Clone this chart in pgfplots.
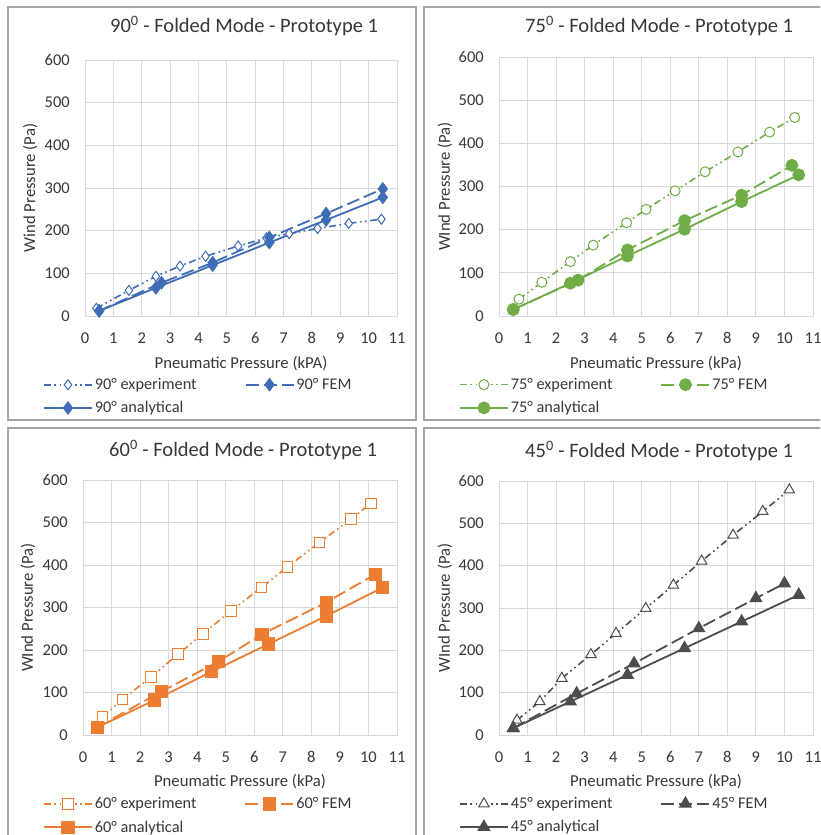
\documentclass[border=0pt]{standalone}
\usepackage{pgfplots}
\pgfplotsset{compat=1.18}
\usepackage{fontspec}
\setmainfont{Carlito}
\definecolor{cblue}{HTML}{3F6DB5}
\definecolor{cgreen}{HTML}{70AD47}
\definecolor{corange}{HTML}{ED7D31}
\definecolor{cgray}{HTML}{4D4D4D}
\definecolor{gridc}{HTML}{D9D9D9}
\definecolor{framec}{HTML}{A6A6A6}
\definecolor{txt}{HTML}{383838}
\pgfplotsset{
  panel/.style={
    scale only axis,
    xmin=0, xmax=11, ymin=0, ymax=600,
    xtick={0,1,...,11}, ytick={0,100,...,600},
    grid=major,
    grid style={draw=gridc, line width=0.9pt},
    axis line style={draw=gridc, line width=0.9pt},
    major tick length=0pt,
    /pgf/number format/assume math mode=true,
    tick label style={font=\fontsize{16.5}{19}\selectfont, text=txt},
    xticklabel style={anchor=center, yshift=-22pt},
    yticklabel style={anchor=east, inner sep=0pt, xshift=-15pt},
    label style={font=\fontsize{16.7}{19}\selectfont, text=txt},
    title style={font=\fontsize{20.5}{24}\selectfont, text=txt, anchor=center},
    legend columns=2,
    legend cell align=left,
    legend style={draw=none, fill=none, inner sep=0pt, anchor=north west,
      font=\fontsize{16.3}{19}\selectfont, text=txt,
      nodes={inner sep=2pt},
      row sep=6.5pt,
      /tikz/every even column/.append style={column sep=46pt}},
    legend image code/.code={\draw[mark repeat=2,mark phase=2,#1] plot coordinates {(0pt,0pt) (24pt,0pt) (48pt,0pt)};},
  },
  expst/.style={line width=1.6pt, dash pattern=on 7pt off 3.5pt on 1.6pt off 3.5pt on 1.6pt off 3.5pt, mark options={solid, fill=white, line width=1pt}},
  femst/.style={line width=1.8pt, dash pattern=on 13pt off 5pt, mark options={solid}},
  anast/.style={line width=1.8pt, mark options={solid}},
}
\begin{document}
\begin{tikzpicture}[x=1pt,y=1pt]
\useasboundingbox (0,0) rectangle (820,835);
\clip (0,0) rectangle (820,835);
\fill[white] (0,0) rectangle (820,835);
\draw[framec, line width=1.2pt] (8,415) rectangle (416,828);
\draw[framec, line width=1.2pt] (424,415) rectangle (830,828);
\draw[framec, line width=1.2pt] (8,-20) rectangle (416,407);
\draw[framec, line width=1.2pt] (424,-20) rectangle (830,407);

% Panel 1: 90 deg
\begin{axis}[panel, at={(85pt,519pt)}, anchor=south west, width=312pt, height=256pt,
  title={90\textsuperscript{0} - Folded Mode - Prototype 1},
  title style={at={(axis description cs:0.51,1.109)}},
  xlabel={Pneumatic Pressure (kPA)},
  xlabel style={at={(axis description cs:0.5,-0.184)}, anchor=center},
  ylabel={Wind Pressure (Pa)},
  ylabel style={at={(axis description cs:-0.176,0.5)}, anchor=center, rotate=0},
  legend style={at={(axis description cs:-0.135,-0.235)}},
]
\addplot[color=cblue, expst, mark=diamond*, mark size=5pt] coordinates {
(0.4,18) (1.55,60) (2.5,93) (3.35,117) (4.25,140) (5.4,164) (6.4,183) (7.2,193) (8.2,205) (9.3,217) (10.45,227)};
\addlegendentry{90° experiment}
\addplot[color=cblue, femst, mark=diamond*, mark size=5.5pt] coordinates {
(0.5,12) (2.7,78) (4.5,125) (6.5,184) (8.5,240) (10.5,298)};
\addlegendentry{90° FEM}
\addplot[color=cblue, anast, mark=diamond*, mark size=5.5pt] coordinates {
(0.5,12) (2.5,66) (4.5,119) (6.5,172) (8.5,225) (10.5,278)};
\addlegendentry{90° analytical}
\end{axis}

% Panel 2: 75 deg
\begin{axis}[panel, at={(499pt,519pt)}, anchor=south west, width=314pt, height=259pt,
  title={75\textsuperscript{0} - Folded Mode - Prototype 1},
  title style={at={(axis description cs:0.51,1.097)}},
  xlabel={Pneumatic Pressure (kPa)},
  xlabel style={at={(axis description cs:0.5,-0.182)}, anchor=center},
  ylabel={WInd Pressure (Pa)},
  ylabel style={at={(axis description cs:-0.172,0.5)}, anchor=center, rotate=0},
  legend style={at={(axis description cs:-0.128,-0.232)}},
]
\addplot[color=cgreen, expst, mark=*, mark size=5pt] coordinates {
(0.7,39) (1.5,78) (2.5,126) (3.3,164) (4.47,216) (5.15,247) (6.17,290) (7.22,334) (8.37,380) (9.48,426) (10.36,460)};
\addlegendentry{75° experiment}
\addplot[color=cgreen, femst, mark=*, mark size=5.5pt] coordinates {
(0.5,15) (2.77,83) (4.5,153) (6.5,221) (8.5,280) (10.26,349)};
\addlegendentry{75° FEM}
\addplot[color=cgreen, anast, mark=*, mark size=5.5pt] coordinates {
(0.5,15) (2.5,76) (4.5,139) (6.5,201) (8.5,265) (10.5,327)};
\addlegendentry{75° analytical}
\end{axis}

% Panel 3: 60 deg
\begin{axis}[panel, at={(83pt,100pt)}, anchor=south west, width=314pt, height=255pt,
  title={60\textsuperscript{0} - Folded Mode - Prototype 1},
  title style={at={(axis description cs:0.51,1.094)}},
  xlabel={Pneumatic Pressure (kPa)},
  xlabel style={at={(axis description cs:0.5,-0.184)}, anchor=center},
  ylabel={WInd Pressure (Pa)},
  ylabel style={at={(axis description cs:-0.175,0.5)}, anchor=center, rotate=0},
  legend style={at={(axis description cs:-0.128,-0.237)}},
]
\addplot[color=corange, expst, mark=square*, mark size=5.3pt] coordinates {
(0.69,43) (1.39,84) (2.39,137) (3.33,190) (4.2,238) (5.19,292) (6.25,347) (7.17,396) (8.28,453) (9.39,508) (10.09,545)};
\addlegendentry{60° experiment}
\addplot[color=corange, femst, mark=square*, mark size=5.8pt] coordinates {
(0.5,18) (2.74,102) (4.75,173) (6.27,237) (8.52,312) (10.24,378)};
\addlegendentry{60° FEM}
\addplot[color=corange, anast, mark=square*, mark size=5.8pt] coordinates {
(0.5,18) (2.51,82) (4.5,149) (6.5,214) (8.52,280) (10.5,347)};
\addlegendentry{60° analytical}
\end{axis}

% Panel 4: 45 deg
\begin{axis}[panel, at={(499pt,100pt)}, anchor=south west, width=314pt, height=254pt,
  title={45\textsuperscript{0} - Folded Mode - Prototype 1},
  title style={at={(axis description cs:0.51,1.094)}},
  xlabel={Pneumatic Pressure (kPa)},
  xlabel style={at={(axis description cs:0.5,-0.184)}, anchor=center},
  ylabel={WInd Pressure (Pa)},
  ylabel style={at={(axis description cs:-0.172,0.5)}, anchor=center, rotate=0},
  legend style={at={(axis description cs:-0.128,-0.237)}},
]
\addplot[color=cgray, expst, mark=triangle*, mark size=6pt] coordinates {
(0.63,35) (1.43,79) (2.2,134) (3.22,190) (4.1,240) (5.14,299) (6.11,354) (7.1,411) (8.2,472) (9.24,528) (10.17,579)};
\addlegendentry{45° experiment}
\addplot[color=cgray, femst, mark=triangle*, mark size=6pt] coordinates {
(0.5,16) (2.72,98) (4.73,169) (7.0,252) (9.0,323) (10.0,358)};
\addlegendentry{45° FEM}
\addplot[color=cgray, anast, mark=triangle*, mark size=6pt] coordinates {
(0.5,16) (2.5,79) (4.5,142) (6.5,205) (8.5,268) (10.5,331)};
\addlegendentry{45° analytical}
\end{axis}
\end{tikzpicture}
\end{document}
